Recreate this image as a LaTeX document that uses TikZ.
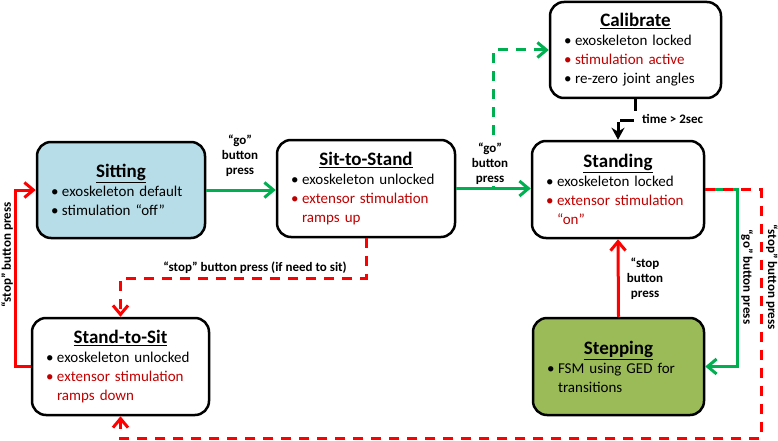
\documentclass[tikz,border=0pt]{standalone}
\usepackage{fontspec}
\setmainfont{Carlito}
\usetikzlibrary{arrows.meta}
\definecolor{sitblue}{HTML}{B7DEE8}
\definecolor{stepgreen}{HTML}{9BBB59}
\definecolor{txtred}{HTML}{C00000}
\definecolor{lnred}{HTML}{FF0000}
\definecolor{lngreen}{HTML}{00B050}
\newcommand{\ttl}[1]{{\centering\fontsize{19}{21}\selectfont\bfseries\underline{#1}\par}}
\newcommand{\bitem}[2][black]{\par{\color{#1}\hangindent=11pt\hangafter=1\noindent\makebox[11pt][l]{•}#2\par}}
\tikzset{
  myarr/.tip={Straight Barb[length=9pt,width=15pt]},
  box/.style={draw, line width=2.5pt, rounded corners=14pt, inner xsep=14pt, inner ysep=3pt,
    font=\fontsize{15}{19}\selectfont, minimum height=97pt},
  lbl/.style={font=\fontsize{13}{15}\selectfont\bfseries, align=center, inner sep=1pt},
  gline/.style={draw=lngreen, line width=3pt, -myarr},
  rline/.style={draw=lnred, line width=3pt, -myarr},
  gdash/.style={gline, dash pattern=on 10pt off 8pt},
  rdash/.style={rline, dash pattern=on 10pt off 8pt},
}
\begin{document}
\begin{tikzpicture}[x=1pt,y=-1pt]
\useasboundingbox (0,0) rectangle (778,441);

% states
\node[box, fill=sitblue, text width=140pt, minimum height=96pt] (sit) at (121,190)
  {\ttl{Sitting}\bitem{exoskeleton default}\bitem{stimulation “off”}};
\node[box, text width=150pt] (sts) at (366,188.5)
  {\ttl{Sit-to-Stand}\bitem{exoskeleton unlocked}\bitem[txtred]{extensor stimulation ramps up}};
\node[box, text width=144pt] (std) at (618,189.5)
  {\ttl{Standing}\bitem{exoskeleton locked}\bitem[txtred]{extensor stimulation “on”}};
\node[box, text width=143pt, minimum height=96pt] (cal) at (635.5,50)
  {\ttl{Calibrate}\bitem{exoskeleton locked}\bitem[txtred]{stimulation active}\bitem{re-zero joint angles}};
\node[box, text width=149pt] (s2s) at (120.5,366.5)
  {\ttl{Stand-to-Sit}\bitem{exoskeleton unlocked}\bitem[txtred]{extensor stimulation ramps down}};
\node[box, fill=stepgreen, text width=143pt] (stp) at (618.5,366.5)
  {\ttl{Stepping}\bitem{FSM using GED for transitions}};

% helper coordinates
\coordinate (gd) at (493,189);
\coordinate (gx) at (737,0);
\coordinate (rx) at (761,0);
\coordinate (by) at (0,438);
\coordinate (hy) at (0,278);
\coordinate (lx) at (15,0);

% sitting -> sit-to-stand
\draw[gline] (sit.east) -- (sit.east -| sts.west);
\node[lbl] (lgo1) at (240,156) {“go”\\button\\press};

% sit-to-stand -> standing
\draw[gline] (sts.east) -- (sts.east -| std.west);
% sit-to-stand -> calibrate (dashed)
\draw[gdash] (gd) |- (cal.west);
\node[lbl, fill=white] (lgo2) at (490,164) {“go”\\button\\press};

% calibrate -> standing
\draw[black, line width=3pt, dash pattern=on 12pt off 11pt on 14pt off 3pt on 40pt,
  -{Stealth[length=12pt,width=13pt]}] (cal.south) -- ++(0,21) -| (std.north);
\node[lbl, anchor=west] (ltime) at (641,119) {time > 2sec};

% stepping -> standing
\draw[rline] (stp.north) -- (std.south);
\node[lbl] (lstop2) at (645,279) {“stop\\button\\press};

% standing -> stepping
\draw[gline] (std.east) -- (std.east -| gx) |- (stp.east);
\node[lbl, rotate=-90] (lgo3) at (747,277) {“go” button press};

% standing -> stand-to-sit
\draw[rdash] (std.east) -- (std.east -| rx) -- (rx |- by) -- (by -| s2s.south) -- (s2s.south);
\node[lbl, rotate=-90] (lstop3) at (772,277) {“stop” button press};

% sit-to-stand -> stand-to-sit
\draw[rdash] (sts.south) -- (sts.south |- hy) -- (s2s.north |- hy) -- (s2s.north);
\node[lbl] (lstop4) at (255,268) {“stop” button press (if need to sit)};

% stand-to-sit -> sitting
\draw[rline] (s2s.west) -- (s2s.west -| lx) |- (sit.west);
\node[lbl, rotate=90] (lstop1) at (7,255) {“stop” button press};
\end{tikzpicture}
\end{document}
